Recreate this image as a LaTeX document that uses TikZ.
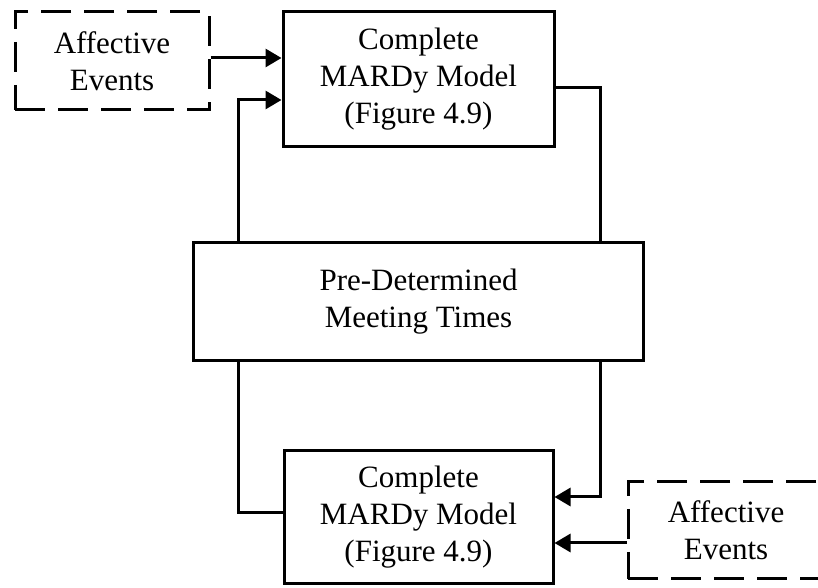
\documentclass[tikz,border=0pt]{standalone}
\usepackage{fontspec}
\setmainfont{Liberation Serif}
\usetikzlibrary{arrows.meta,positioning}

\begin{document}
\begin{tikzpicture}[
    x=1pt, y=1pt,
    block/.style={rectangle, draw, line width=3pt, align=center,
                  font=\fontsize{31pt}{37pt}\selectfont},
    event/.style={block, dash pattern=on 30pt off 13pt},
    arrow/.style={-{Triangle[length=16pt,width=18pt]}, line width=3pt},
    link/.style={line width=3pt}
  ]
  \useasboundingbox (0,0) rectangle (818,588);

  % ---- Model column ----
  \node[block, minimum width=271pt, minimum height=135pt] (topmodel) at (418.5,508.5)
       {Complete\\MARDy Model\\(Figure 4.9)};
  \node[block, minimum width=450pt, minimum height=118pt, below=93pt of topmodel] (meet)
       {Pre-Determined\\Meeting Times};
  \node[block, minimum width=269pt, minimum height=133pt, below=87pt of meet] (botmodel)
       {Complete\\MARDy Model\\(Figure 4.9)};

  % ---- Events ----
  \node[event, minimum width=194pt, minimum height=98pt] (affA) at (112,527) {Affective\\Events};
  \node[event, minimum width=196pt, minimum height=97pt] (affB) at (726,57.5) {Affective\\Events};

  % ---- Arrows ----
  \draw[arrow] ([yshift=3pt]affA.east) -- ([yshift=3pt]affA.east -| topmodel.west);
  \draw[arrow] ([xshift=46pt]meet.north west) |- ([yshift=-20.5pt]topmodel.west);
  \draw[link]  ([yshift=-8.5pt]topmodel.east) -| ([xshift=-45pt]meet.north east);
  \draw[link]  ([xshift=46pt]meet.south west) |- ([yshift=4.5pt]botmodel.west);
  \draw[arrow] ([xshift=-45pt]meet.south east) |- ([yshift=20.5pt]botmodel.east);
  \draw[arrow] ([yshift=-12.5pt]affB.west) -- ([yshift=-12.5pt]affB.west -| botmodel.east);
\end{tikzpicture}
\end{document}
